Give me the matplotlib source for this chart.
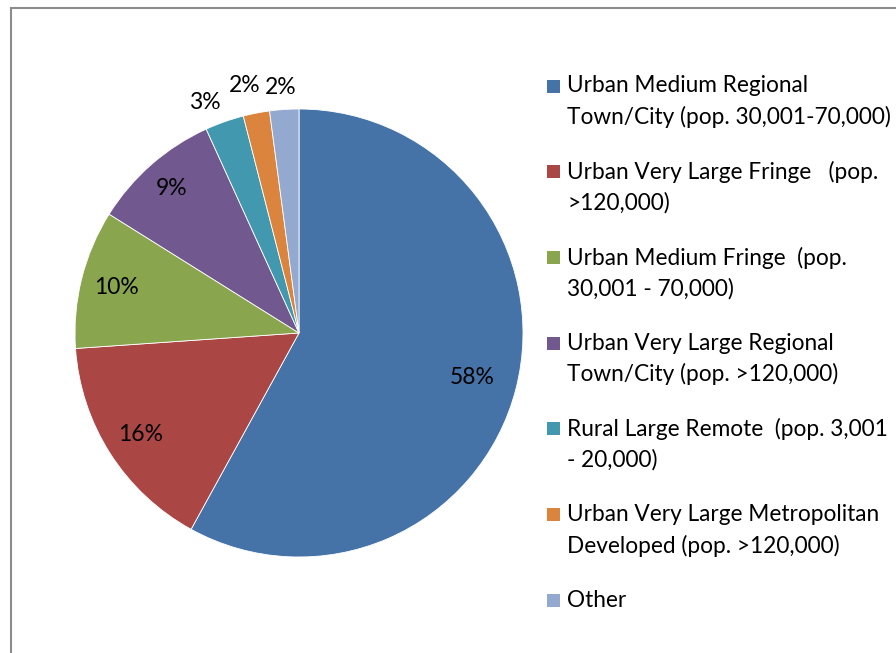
import matplotlib.pyplot as plt
import numpy as np
from matplotlib.patches import Rectangle

# share of schools by geolocation category (labels show rounded %)
categories = [
    "Urban Medium Regional\nTown/City (pop. 30,001-70,000)",
    "Urban Very Large Fringe   (pop.\n>120,000)",
    "Urban Medium Fringe  (pop.\n30,001 - 70,000)",
    "Urban Very Large Regional\nTown/City (pop. >120,000)",
    "Rural Large Remote  (pop. 3,001\n- 20,000)",
    "Urban Very Large Metropolitan\nDeveloped (pop. >120,000)",
    "Other",
]
shares = [58.0, 15.9, 10.0, 9.3, 2.8, 1.9, 2.1]
colors = ["#4573a7", "#aa4644", "#89a54e", "#71588f", "#4298af", "#db843d", "#93a9cf"]

# label placement: radius (fraction of pie radius) and small angular nudge in degrees
label_r = [0.80, 0.84, 0.84, 0.86, 1.11, 1.13, 1.10]
label_nudge = [0, 0, 0, 0, 2.8, 1.4, 0.4]

plt.rcParams['font.family'] = ['Lato', 'DejaVu Sans']

fig = plt.figure(figsize=(8.96, 6.53), dpi=100)
W, H = 896, 653

# chart frame (cut off on right and bottom)
fig.add_artist(Rectangle((11 / W, -0.1), 1.2, 1.1 - 8 / H, transform=fig.transFigure,
                         fill=False, edgecolor="#8c8c8c", linewidth=1.5))

# pie: centre (299, 333), radius 224 px
r = 224
ax = fig.add_axes([(299 - r) / W, (H - 333 - r) / H, 2 * r / W, 2 * r / H])
wedges, _ = ax.pie(shares, colors=colors, startangle=90, counterclock=False,
                   wedgeprops=dict(linewidth=0.6, edgecolor="white"))
ax.set_xlim(-1, 1)
ax.set_ylim(-1, 1)
ax.set_aspect("equal")
ax.axis("off")

for w, s, lr, nd in zip(wedges, shares, label_r, label_nudge):
    mid = np.deg2rad((w.theta1 + w.theta2) / 2 + nd)
    ax.text(lr * np.cos(mid), lr * np.sin(mid), f"{s:.0f}%", ha="center", va="center",
            fontsize=16.5, color="black", clip_on=False)

# legend drawn by hand to match the layout
x_box, x_txt = 547, 567
y0, step = 86, 85.7
for i, (lab, col) in enumerate(zip(categories, colors)):
    yc = y0 + i * step
    fig.add_artist(Rectangle((x_box / W, (H - yc - 6.5) / H), 13 / W, 13 / H,
                             transform=fig.transFigure, facecolor=col, edgecolor="none"))
    fig.text(x_txt / W, (H - yc + 10.5) / H, lab, ha="left", va="top",
             fontsize=16.3, linespacing=1.52, color="black")

plt.savefig("out.png", dpi=100)
